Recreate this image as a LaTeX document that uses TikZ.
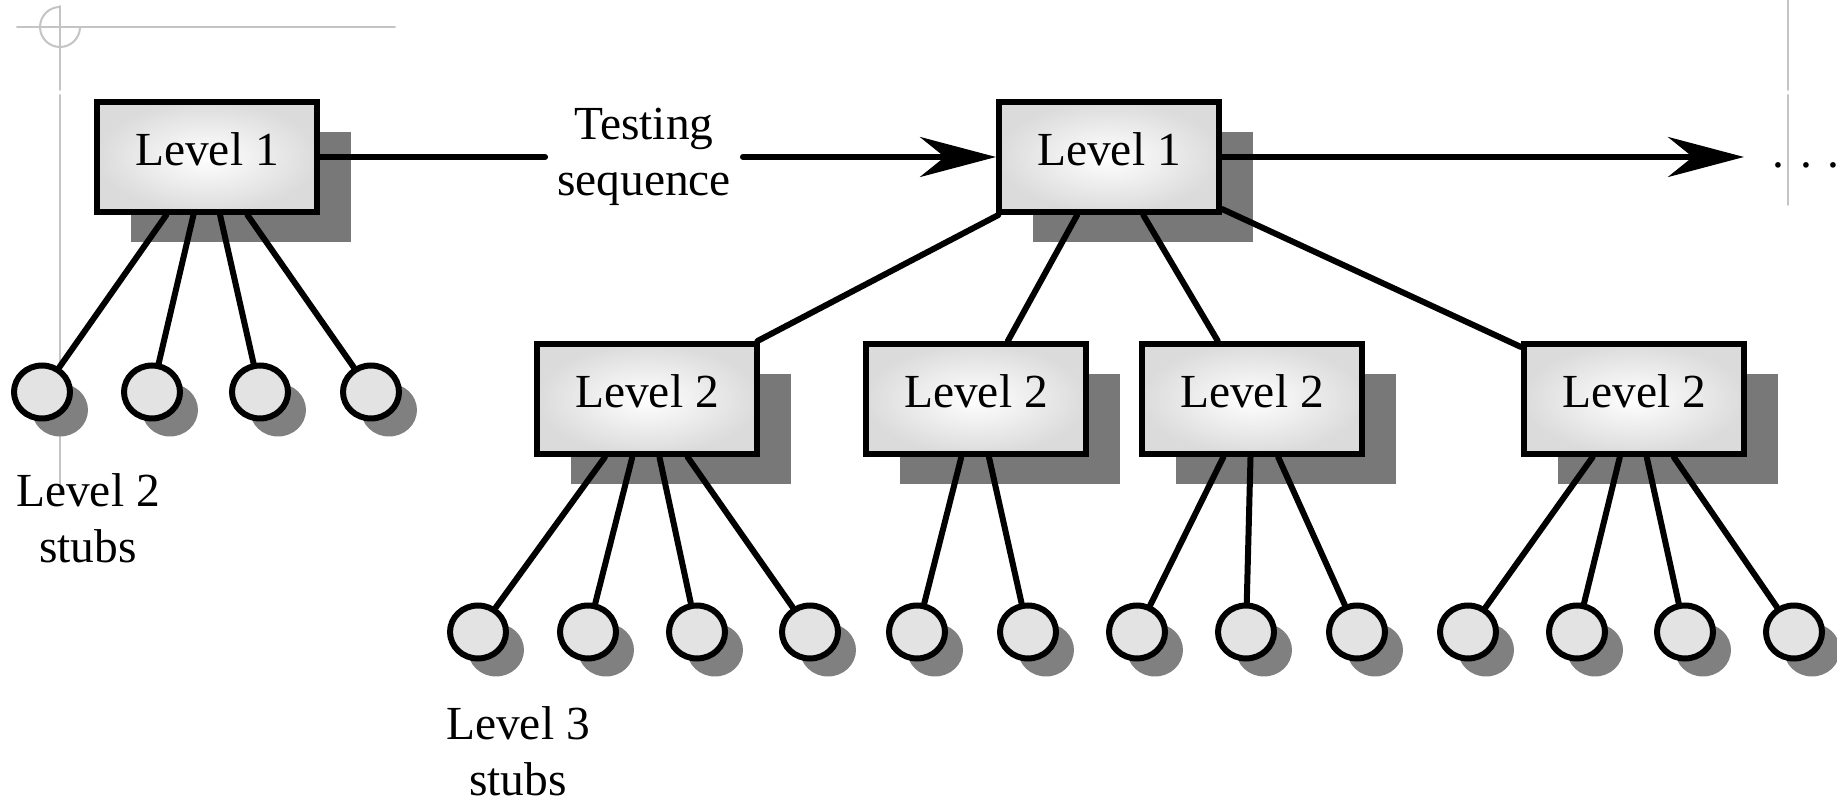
\documentclass[tikz,border=0pt]{standalone}
\usepackage{fontspec}
\setmainfont{Liberation Serif}
\usetikzlibrary{shapes.geometric,shadows,arrows.meta}

\begin{document}
\begin{tikzpicture}[scale=1, line cap=round, font=\fontsize{27}{32}\selectfont,
  box/.style={rectangle, draw, line width=0.12cm, inner color=white, outer color=black!14,
    minimum width=4.40cm, minimum height=2.20cm, text depth=0.33cm,
    drop shadow={shadow xshift=0.67cm, shadow yshift=-0.6cm, fill=black!53, opacity=1}},
  stub/.style={ellipse, draw, line width=0.12cm, fill=black!11, inner sep=0pt,
    minimum width=1.12cm, minimum height=1.06cm,
    drop shadow={shadow xshift=0.36cm, shadow yshift=-0.36cm, fill=black!50, opacity=1}},
  conn/.style={line width=0.12cm},
  tip/.style={-{Stealth[length=1.52cm, width=0.8cm]}},
  deco/.style={draw=black!23, line width=0.04cm}]

\useasboundingbox (0, 0) rectangle (36.74, 16.16);

\draw [deco] (0.34, 15.62) -- (7.90, 15.62);
\draw [deco] (1.20, 16.02) arc (90:360:0.40);
\draw [deco] (1.20, 16.04) -- (1.20, 14.36);
\draw [deco] (1.20, 14.26) -- (1.20, 6.26);
\draw [deco] (35.76, 16.16) -- (35.76, 14.36);
\draw [deco] (35.76, 14.26) -- (35.76, 12.06);

\node (l1a) at (4.14, 13.02) [box] {Level 1};
\node (l1b) at (22.18, 13.02) [box] {Level 1};
\node (seq) at (12.88, 13.02) [align=center, inner xsep=0.24cm, outer sep=0pt] {Testing\\sequence};
\coordinate (l1end) at (34.88, 13.02);
\node (dots) at (36.12, 12.80) [anchor=base] {. . .};

\draw [conn] (l1a) -- (seq);
\draw [conn, tip] (seq) -- (l1b);
\draw [conn, tip] (l1b) -- (l1end);

\node (l2a) at (12.94, 8.18) [box] {Level 2};
\node (l2b) at (19.52, 8.18) [box] {Level 2};
\node (l2c) at (25.04, 8.18) [box] {Level 2};
\node (l2d) at (32.68, 8.18) [box] {Level 2};

\draw [conn] (l1b) -- (l2a);
\draw [conn] (l1b) -- (l2b);
\draw [conn] (l1b) -- (l2c);
\draw [conn] (l1b) -- (l2d);

\node (l2s1) at (0.84, 8.32) [stub] {};
\node (l2s2) at (3.04, 8.32) [stub] {};
\node (l2s3) at (5.20, 8.32) [stub] {};
\node (l2s4) at (7.42, 8.32) [stub] {};

\draw [conn] (l1a) -- (l2s1);
\draw [conn] (l1a) -- (l2s2);
\draw [conn] (l1a) -- (l2s3);
\draw [conn] (l1a) -- (l2s4);

\node (lbl2) at (1.76, 5.80) [align=center] {Level 2\\stubs};

\node (l3s1) at (9.56, 3.52) [stub] {};
\node (l3s2) at (11.76, 3.52) [stub] {};
\node (l3s3) at (13.94, 3.52) [stub] {};
\node (l3s4) at (16.20, 3.52) [stub] {};
\node (l3s5) at (18.34, 3.52) [stub] {};
\node (l3s6) at (20.56, 3.52) [stub] {};
\node (l3s7) at (22.74, 3.52) [stub] {};
\node (l3s8) at (24.92, 3.52) [stub] {};
\node (l3s9) at (27.14, 3.52) [stub] {};
\node (l3s10) at (29.36, 3.52) [stub] {};
\node (l3s11) at (31.54, 3.52) [stub] {};
\node (l3s12) at (33.70, 3.52) [stub] {};
\node (l3s13) at (35.88, 3.52) [stub] {};

\draw [conn] (l2a) -- (l3s1);
\draw [conn] (l2a) -- (l3s2);
\draw [conn] (l2a) -- (l3s3);
\draw [conn] (l2a) -- (l3s4);
\draw [conn] (l2b) -- (l3s5);
\draw [conn] (l2b) -- (l3s6);
\draw [conn] (l2c) -- (l3s7);
\draw [conn] (l2c) -- (l3s8);
\draw [conn] (l2c) -- (l3s9);
\draw [conn] (l2d) -- (l3s10);
\draw [conn] (l2d) -- (l3s11);
\draw [conn] (l2d) -- (l3s12);
\draw [conn] (l2d) -- (l3s13);

\node (lbl3) at (10.36, 1.14) [align=center, inner sep=0pt] {Level 3\\stubs};
\end{tikzpicture}
\end{document}
